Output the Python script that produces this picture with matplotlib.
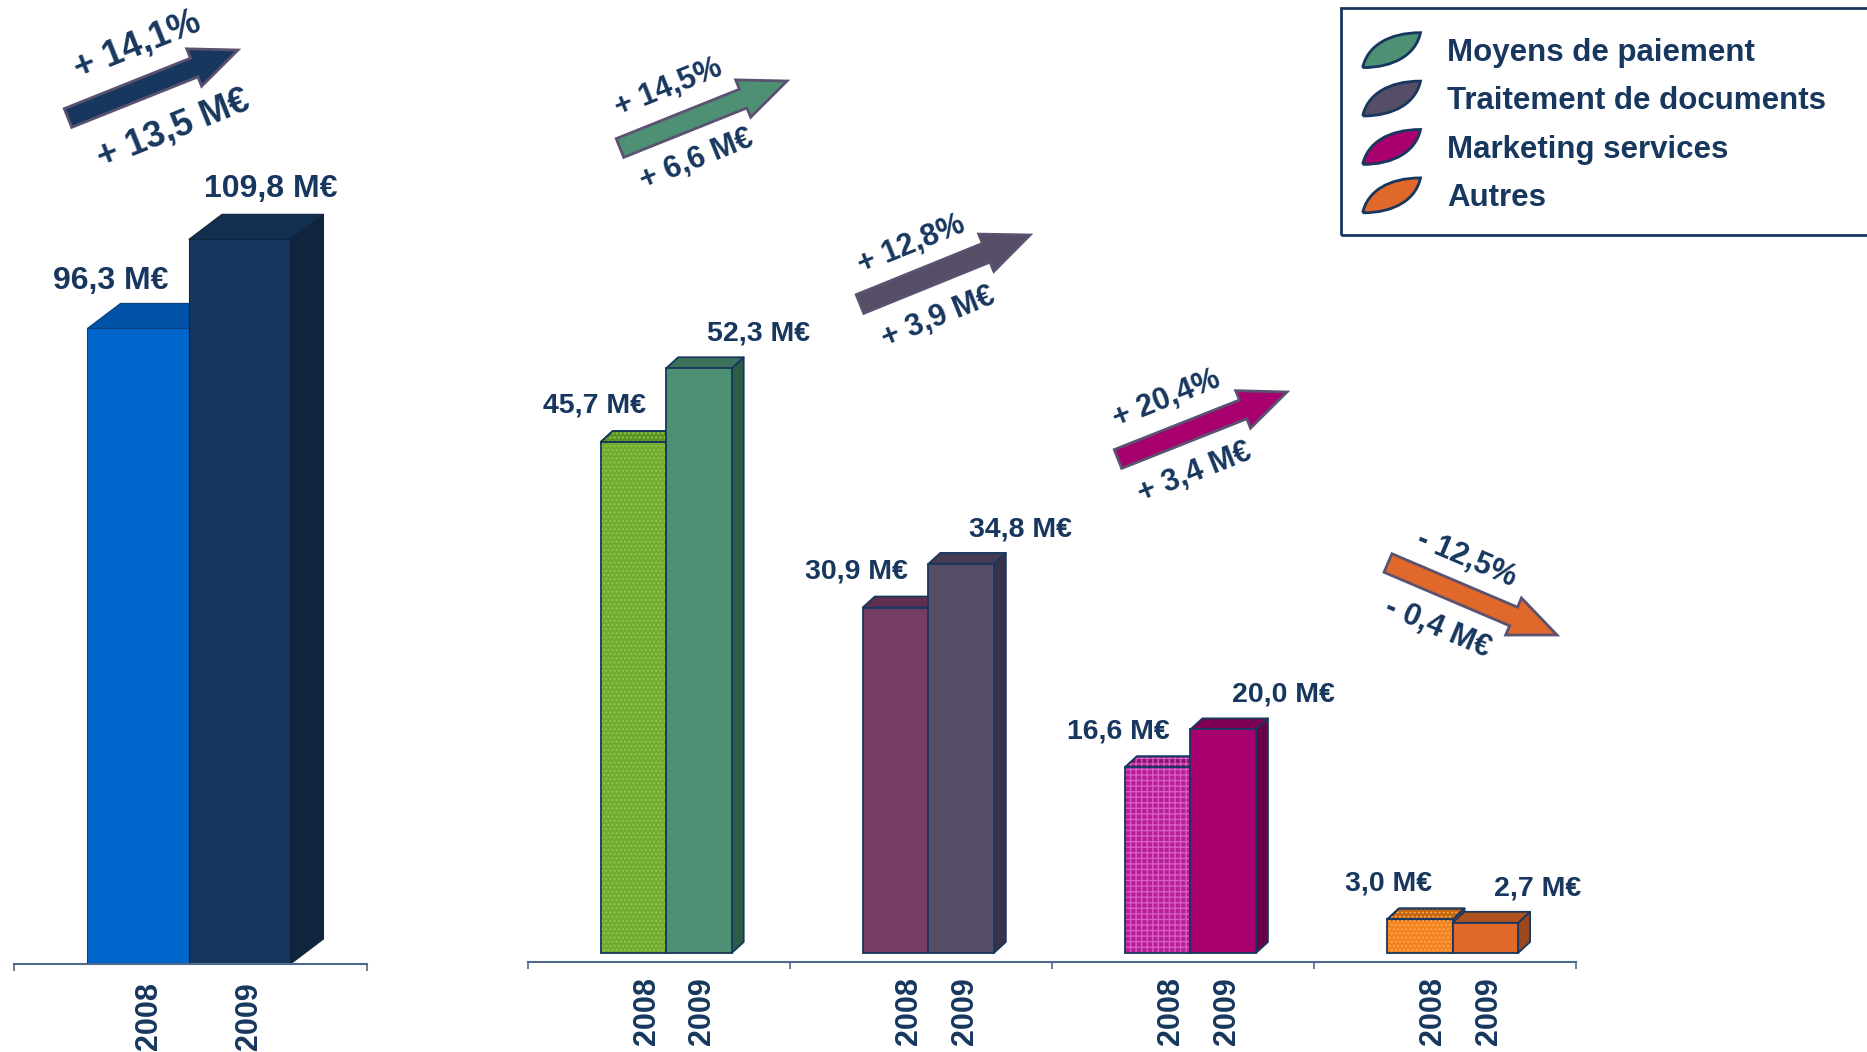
import numpy as np
import matplotlib
matplotlib.use('Agg')
import matplotlib.pyplot as plt
from matplotlib.patches import Polygon, FancyArrowPatch, Patch, PathPatch, ArrowStyle, Rectangle
from matplotlib.path import Path
from matplotlib.legend_handler import HandlerPatch

# ---- data ----
years = ['2008', '2009']
total = [96.3, 109.8]
segments = ['Moyens de paiement', 'Traitement de documents', 'Marketing services', 'Autres']
seg_2008 = [45.7, 30.9, 16.6, 3.0]
seg_2009 = [52.3, 34.8, 20.0, 2.7]
growth_pct = ['+ 14,1%', '+ 14,5%', '+ 12,8%', '+ 20,4%', '- 12,5%']
growth_abs = ['+ 13,5 M€', '+ 6,6 M€', '+ 3,9 M€', '+ 3,4 M€', '- 0,4 M€']

NAVY = '#17375E'
AXIS = '#4F6A8A'
W, H = 1867, 1052

# colours: (front, top, side) per bar
total_cols = [('#0066CC', '#0052A6', '#0B3F7A'), ('#17375E', '#132F50', '#10243D')]
seg_cols_2008 = [('#6FAC2F', '#5A9224', '#4B7A1E'), ('#763D62', '#5E2F4E', '#4F2742'),
                 ('#B81E98', '#8E1474', '#7A1064'), ('#F38220', '#C0640E', '#9E4E10')]
seg_cols_2009 = [('#4E9073', '#3C7259', '#2E5C47'), ('#564D66', '#443C52', '#3A3248'),
                 ('#A8006E', '#7E0054', '#6A0046'), ('#E0682A', '#B0521F', '#9A4820')]
seg_hatch = [('....', '#93C650'), (None, None), ('+++', '#D85CC2'), ('....', '#FFA54A')]
leaf_cols = ['#4E9073', '#564D66', '#A8006E', '#E0682A']

plt.rcParams['font.family'] = ['Liberation Sans', 'DejaVu Sans']
plt.rcParams['font.weight'] = 'bold'
plt.rcParams['hatch.linewidth'] = 1.0

fig = plt.figure(figsize=(W / 100, H / 100), dpi=100)


def fpos(x, y):
    return x / W, 1 - y / H


def fmt(v):
    return f'{v:.1f}'.replace('.', ',') + ' M€'


def bar3d(ax, x, h, w, cols, depth, edge, lw, hatch=None, hcol=None):
    front, top, side = cols
    p = ax.transData.transform([[1, 1]]) - ax.transData.transform([[0, 0]])
    ddx, ddy = depth[0] / p[0][0], depth[1] / p[0][1]
    x0, x1 = x - w / 2, x + w / 2
    side_poly = [(x1, 0), (x1 + ddx, ddy), (x1 + ddx, h + ddy), (x1, h)]
    top_poly = [(x0, h), (x0 + ddx, h + ddy), (x1 + ddx, h + ddy), (x1, h)]
    ax.add_patch(Polygon(side_poly, closed=True, fc=side, ec=edge, lw=lw, joinstyle='round'))
    ax.add_patch(Polygon(top_poly, closed=True, fc=top, ec=edge, lw=lw, joinstyle='round'))
    ax.bar(x, h, w, facecolor=front, linewidth=0)
    if hatch:
        ax.add_patch(Polygon(top_poly, closed=True, fc='none', ec=hcol, hatch=hatch, lw=0))
        ax.add_patch(Polygon(top_poly, closed=True, fc='none', ec=edge, lw=lw))
        ax.bar(x, h, w, facecolor='none', edgecolor=hcol, hatch=hatch, linewidth=0)
    ax.bar(x, h, w, facecolor='none', edgecolor=edge, linewidth=lw)


def style_axis(ax, ticks):
    for s in ['top', 'right', 'left']:
        ax.spines[s].set_visible(False)
    ax.spines['bottom'].set_color(AXIS)
    ax.spines['bottom'].set_linewidth(1.5)
    ax.set_yticks([])
    ax.set_xticks(ticks)
    ax.set_xticklabels([])
    ax.tick_params(axis='x', length=5, width=1.2, color=AXIS, direction='out')
    ax.patch.set_visible(False)


# ---- left chart: group totals ----
ax1 = fig.add_axes([14 / W, (H - 964) / H, (367 - 14) / W, 130 * 6.6 / H])
ax1.set_xlim(-1.724, 1.754)
ax1.set_ylim(0, 130)
style_axis(ax1, [-1.724, 1.754])
xl = [-0.5, 0.5]
for i in range(2):
    bar3d(ax1, xl[i], total[i], 1.0, total_cols[i], (33, 25), total_cols[i][2], 0.8)
lab_dx = [-19.5, 22.5]
lab_dy = [34, 36]
yr_dx1 = [8, 7]
for i in range(2):
    ax1.annotate(fmt(total[i]), xy=(xl[i], total[i]), xytext=(lab_dx[i], lab_dy[i]),
                 textcoords='offset points', ha='center', va='center',
                 fontsize=23, color=NAVY, annotation_clip=False)
    ax1.annotate(years[i], xy=(xl[i], 0), xycoords=('data', 'axes fraction'),
                 xytext=(yr_dx1[i], -13), textcoords='offset points', rotation=90,
                 ha='center', va='top', fontsize=22, color=NAVY, annotation_clip=False)

# ---- right chart: segments ----
ax2 = fig.add_axes([527.5 / W, (H - 962) / H, (1576 - 527.5) / W, 60.805 * 11.18 / H])
ax2.set_xlim(-0.5, 3.5)
ax2.set_ylim(-0.805, 60)
style_axis(ax2, [-0.5, 0.5, 1.5, 2.5, 3.5])
bw = 0.25
for g in range(len(segments)):
    xa = g + 0.029 - bw / 2
    xb = g + 0.029 + bw / 2
    hatch, hcol = seg_hatch[g]
    bar3d(ax2, xa, seg_2008[g], bw, seg_cols_2008[g], (12, 11), NAVY, 1.3, hatch, hcol)
    bar3d(ax2, xb, seg_2009[g], bw, seg_cols_2009[g], (12, 11), NAVY, 1.3)
    ax2.annotate(fmt(seg_2008[g]), xy=(xa, seg_2008[g]), xytext=(9, 26),
                 textcoords='offset points', ha='right', va='center',
                 fontsize=20.5, color=NAVY, annotation_clip=False)
    ax2.annotate(fmt(seg_2009[g]), xy=(xb, seg_2009[g]), xytext=(6, 25),
                 textcoords='offset points', ha='left', va='center',
                 fontsize=20.5, color=NAVY, annotation_clip=False)
    for x, yr, dx in [(xa, years[0], 9.5), (xb, years[1], 2.5)]:
        ax2.annotate(yr, xy=(x, 0), xycoords=('data', 'axes fraction'),
                     xytext=(dx, -11), textcoords='offset points', rotation=90,
                     ha='center', va='top', fontsize=22, color=NAVY, annotation_clip=False)

# ---- growth arrows ----
arrow_tail = [(68, 118), (620, 148), (860, 304), (1118, 459), (1388, 563)]
arrow_tip = [(238, 50), (787, 81), (1030, 235), (1287, 392), (1557, 635)]
arrow_fill = ['#17375E', '#4E9073', '#564D66', '#A8006E', '#E0682A']
pct_pos = [(137, 45), (669, 88), (911, 245), (1167, 399), (1467, 559)]
abs_pos = [(173, 129), (697, 160), (938, 317), (1195, 473), (1438, 628)]
for k in range(5):
    arr = FancyArrowPatch(fpos(*arrow_tail[k]), fpos(*arrow_tip[k]), transform=fig.transFigure,
                          arrowstyle=ArrowStyle.Simple(head_length=34, head_width=29, tail_width=14.5),
                          mutation_scale=1, shrinkA=0, shrinkB=0,
                          fc=arrow_fill[k], ec='#5A5270', lw=2, joinstyle='miter')
    fig.add_artist(arr)
    dx = arrow_tip[k][0] - arrow_tail[k][0]
    dy = arrow_tail[k][1] - arrow_tip[k][1]
    ang = np.degrees(np.arctan2(dy, dx))
    fs = 26 if k == 0 else 22
    fig.text(*fpos(*pct_pos[k]), growth_pct[k], rotation=ang, rotation_mode='anchor',
             ha='center', va='center', fontsize=fs, color=NAVY)
    fig.text(*fpos(*abs_pos[k]), growth_abs[k], rotation=ang, rotation_mode='anchor',
             ha='center', va='center', fontsize=fs, color=NAVY)


# ---- legend with leaf markers ----
def leaf(legend, orig_handle, xdescent, ydescent, width, height, fontsize):
    x0, y0 = -xdescent, -ydescent - 0.2 * height
    h = height * 1.4
    pts = [(0, 0), (0.08, 0.62), (0.45, 1.0), (1, 1), (0.92, 0.38), (0.55, 0.0), (0, 0)]
    verts = [(x0 + a * width, y0 + b * h) for a, b in pts]
    codes = [Path.MOVETO] + [Path.CURVE4] * 6
    return PathPatch(Path(verts, codes))


# legend box drawn separately so it can run off the right edge
box_l, box_t, box_b = 1341, 8, 235
fig.add_artist(Rectangle(fpos(box_l, box_b), 700 / W, (box_b - box_t) / H,
                         transform=fig.transFigure, fill=False, ec=NAVY, lw=2))
handles = [Patch(facecolor=c, edgecolor=NAVY, linewidth=2) for c in leaf_cols]
leg = fig.legend(handles, segments, loc='upper left',
                 bbox_to_anchor=fpos(1333, box_t), borderaxespad=0,
                 fontsize=22.5, frameon=False, labelspacing=0.58, borderpad=0.95,
                 handlelength=1.85, handleheight=0.85, handletextpad=0.85,
                 handler_map={Patch: HandlerPatch(patch_func=leaf)})
for t in leg.get_texts():
    t.set_color(NAVY)

fig.savefig('out.png', dpi=100, facecolor='white')
